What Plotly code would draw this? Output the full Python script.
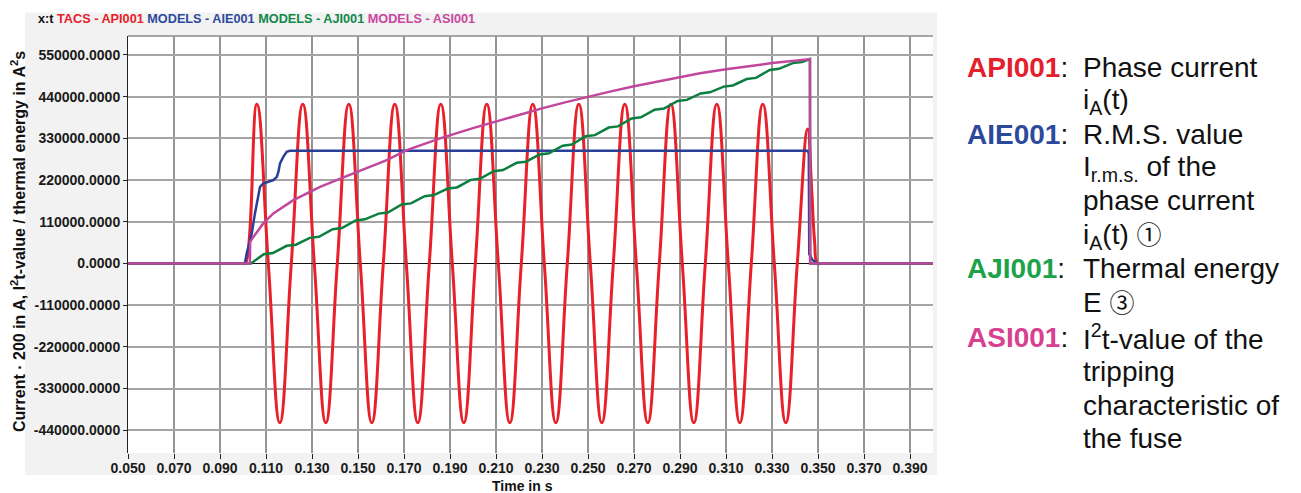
import plotly.graph_objects as go

# ---------------- data ----------------
# Phase current API001 (x200), quarter-period samples
red_t = [0.050, 0.100, 0.101, 0.106, 0.111, 0.116, 0.121, 0.126, 0.131, 0.136, 0.141, 0.146,
         0.151, 0.156, 0.161, 0.166, 0.171, 0.176, 0.181, 0.186, 0.191, 0.196, 0.201,
         0.206, 0.211, 0.216, 0.221, 0.226, 0.231, 0.236, 0.241, 0.246, 0.251, 0.256,
         0.261, 0.266, 0.271, 0.276, 0.281, 0.286, 0.291, 0.296, 0.301, 0.306, 0.311,
         0.316, 0.321, 0.326, 0.331, 0.336, 0.341, 0.3455, 0.3472, 0.3485, 0.3497, 0.351, 0.400]
red_v = [0, 0, 0, 420000, 0, -420000, 0, 420000, 0, -420000, 0, 420000,
         0, -420000, 0, 420000, 0, -420000, 0, 420000, 0, -420000, 0,
         420000, 0, -420000, 0, 420000, 0, -420000, 0, 420000, 0, -420000,
         0, 420000, 0, -420000, 0, 420000, 0, -420000, 0, 420000, 0,
         -420000, 0, 420000, 0, -420000, 0, 355000, 200000, 60000, 0, 0, 0]

# R.M.S. value AIE001
blue_t = [0.050, 0.1008, 0.1016, 0.1030, 0.1038, 0.1052, 0.1067, 0.1074, 0.1088, 0.1110,
          0.1132, 0.1147, 0.1154, 0.1161, 0.1175, 0.1190, 0.1204, 0.3455, 0.3460, 0.3462,
          0.3475, 0.3497, 0.400]
blue_v = [0, 0, 26000, 61500, 79000, 132000, 180000, 202000, 211000, 215000,
          220000, 228600, 242000, 264000, 281000, 294600, 297000, 297000, 290000, 25000,
          10000, 0, 0]

# Thermal energy AJI001
green_t = [0.050, 0.1035, 0.109, 0.113, 0.119, 0.123, 0.129, 0.133, 0.139, 0.143, 0.149,
           0.153, 0.159, 0.163, 0.169, 0.173, 0.179, 0.183, 0.189, 0.193, 0.199, 0.203,
           0.209, 0.213, 0.219, 0.223, 0.229, 0.233, 0.239, 0.243, 0.249, 0.253, 0.259,
           0.263, 0.269, 0.273, 0.279, 0.283, 0.289, 0.293, 0.299, 0.303, 0.309, 0.313,
           0.319, 0.323, 0.329, 0.333, 0.339, 0.343, 0.3465, 0.3466, 0.400]
green_v = [0, 0, 24500, 27500, 46500, 49500, 67500, 70500, 90500, 93500, 113500,
           116500, 131500, 134500, 155500, 158500, 177500, 180500, 197500, 200500, 220500, 223500,
           243500, 246500, 265500, 268500, 287500, 290500, 310500, 313500, 335500, 338500, 358500,
           361500, 382500, 385500, 405500, 408500, 428500, 431500, 448500, 451500, 466500, 469500,
           486500, 489500, 510500, 513500, 528500, 531500, 539000, 0, 0]

# I2t-value of the tripping characteristic ASI001
pink_t = [0.050, 0.103, 0.1031, 0.1045, 0.1088, 0.1132, 0.1219, 0.1335, 0.148, 0.1625,
          0.1712, 0.1857, 0.200, 0.210, 0.220, 0.230, 0.240, 0.250, 0.260, 0.270, 0.280,
          0.290, 0.2987, 0.310, 0.320, 0.330, 0.340, 0.3465, 0.3466, 0.400]
pink_v = [0, 0, 57000, 70000, 105600, 132000, 167000, 202000, 237600, 272600,
          299000, 330000, 357000, 375000, 392500, 409000, 425000, 440000, 454000, 467500, 480000,
          492000, 501500, 512000, 521000, 528500, 535000, 539000, 0, 0]

x_tick_vals = [0.05, 0.07, 0.09, 0.11, 0.13, 0.15, 0.17, 0.19, 0.21, 0.23, 0.25, 0.27,
               0.29, 0.31, 0.33, 0.35, 0.37, 0.39]
x_tick_labels = ["0.050", "0.070", "0.090", "0.110", "0.130", "0.150", "0.170", "0.190",
                 "0.210", "0.230", "0.250", "0.270", "0.290", "0.310", "0.330", "0.350",
                 "0.370", "0.390"]
y_tick_vals = [-440000, -330000, -220000, -110000, 0, 110000, 220000, 330000, 440000, 550000]
y_tick_labels = ["-440000.0000", "-330000.0000", "-220000.0000", "-110000.0000", "0.0000",
                 "110000.0000", "220000.0000", "330000.0000", "440000.0000", "550000.0000"]

series_names = ["TACS - API001", "MODELS - AIE001", "MODELS - AJI001", "MODELS - ASI001"]
line_colors = ["#e8202a", "#2b3f98", "#0b7f3e", "#c0479c"]
header_colors = ["#e8202a", "#2e4a9e", "#11894a", "#c8479f"]
code_colors = ["#e3202c", "#2c4a9c", "#1ba24b", "#d8418f"]

CIRC = "<span style='font-family:Noto Sans CJK JP;font-weight:normal;font-size:25px'>{}</span>"
codes = ["API001", "AIE001", "AJI001", "ASI001"]
desc_lines = [
    "Phase current", "i<sub>A</sub>(t)",
    "R.M.S. value", "I<sub>r.m.s.</sub> of the", "phase current",
    "i<sub>A</sub>(t) " + CIRC.format("\u2460"),
    "Thermal energy", "E " + CIRC.format("\u2462"),
    "I<sup>2</sup>t-value of the", "tripping", "characteristic of", "the fuse",
]
code_line_index = [0, 2, 6, 8]

# ---------------- figure ----------------
W, H = 1301, 493
L, R, T, B = 128, 368, 36, 40
PW, PH = W - L - R, H - T - B


def px(x):
    return (x - L) / PW


def py(y):
    return (H - B - y) / PH


fig = go.Figure()
fig.add_trace(go.Scatter(x=red_t, y=red_v, mode="lines", name=series_names[0],
                         line=dict(color=line_colors[0], width=3, shape="spline", smoothing=1.3)))
fig.add_trace(go.Scatter(x=blue_t, y=blue_v, mode="lines", name=series_names[1],
                         line=dict(color=line_colors[1], width=2.5)))
fig.add_trace(go.Scatter(x=green_t, y=green_v, mode="lines", name=series_names[2],
                         line=dict(color=line_colors[2], width=2.5)))
fig.add_trace(go.Scatter(x=pink_t, y=pink_v, mode="lines", name=series_names[3],
                         line=dict(color=line_colors[3], width=2.5)))

tickfont = dict(family="Liberation Sans, Arial, sans-serif", size=14, color="#1a1a1a", weight="bold")

fig.update_layout(
    width=W, height=H,
    margin=dict(l=L, r=R, t=T, b=B, pad=0),
    paper_bgcolor="white",
    plot_bgcolor="white",
    showlegend=False,
    xaxis=dict(range=[0.05, 0.40], tickvals=x_tick_vals, ticktext=x_tick_labels,
               showgrid=True, gridcolor="#959595", gridwidth=1.5,
               ticks="outside", ticklen=5, tickcolor="#222", tickwidth=1,
               ticklabelstandoff=-3,
               zeroline=False, showline=False, tickfont=tickfont),
    yaxis=dict(range=[-500000, 600000], tickvals=y_tick_vals, ticktext=y_tick_labels,
               showgrid=True, gridcolor="#a5a5a5", gridwidth=1.5,
               ticks="outside", ticklen=4, tickcolor="#222", tickwidth=1,
               zeroline=True, zerolinecolor="#111", zerolinewidth=1,
               showline=True, linecolor="#222", linewidth=1, tickfont=tickfont),
    shapes=[
        dict(type="rect", xref="paper", yref="paper", x0=px(25), x1=px(937),
             y0=py(475), y1=py(12.5), fillcolor="#f2f2f2", line=dict(width=0), layer="below"),
        dict(type="rect", xref="paper", yref="paper", x0=0, x1=1, y0=0, y1=1,
             fillcolor="white", line=dict(width=0), layer="below"),
        dict(type="line", xref="paper", yref="paper", x0=0, x1=1, y0=1, y1=1,
             line=dict(color="#8a8a8a", width=1.5), layer="below"),
    ],
)

annotations = []
# header (x:t + coloured series names)
hdr = "x:t " + " ".join(
    f"<span style='color:{c}'>{n}</span>" for n, c in zip(series_names, header_colors))
annotations.append(dict(xref="paper", yref="paper", x=px(36), y=py(19), xanchor="left",
                        yanchor="middle", showarrow=False, text=hdr,
                        font=dict(family="Liberation Sans, Arial, sans-serif", size=12.7,
                                  color="#111", weight="bold")))
# axis titles
annotations.append(dict(xref="paper", yref="paper", x=px(522), y=py(486), xanchor="center",
                        yanchor="middle", showarrow=False, text="Time in s",
                        font=dict(family="Liberation Sans, Arial, sans-serif", size=14,
                                  color="#111", weight="bold")))
annotations.append(dict(xref="paper", yref="paper", x=px(18), y=py(242), xanchor="center",
                        yanchor="middle", showarrow=False, textangle=-90,
                        text="Current \u00b7 200 in A, I<sup>2</sup>t-value / thermal energy in A<sup>2</sup>s",
                        font=dict(family="Liberation Sans, Arial, sans-serif", size=16,
                                  color="#111", weight="bold")))
# right-hand explanation
line_y = [67, 101, 134, 168, 200, 234, 268, 301, 337, 371, 405, 438]
bigfont = dict(family="Liberation Sans, Arial, sans-serif", size=28, color="#111")
for i, (txt, yy) in enumerate(zip(desc_lines, line_y)):
    annotations.append(dict(xref="paper", yref="paper", x=px(1081), y=py(yy), xanchor="left",
                            yanchor="middle", showarrow=False, text=txt, font=bigfont))
for k, idx in enumerate(code_line_index):
    annotations.append(dict(xref="paper", yref="paper", x=px(965), y=py(line_y[idx]),
                            xanchor="left", yanchor="middle", showarrow=False,
                            text=f"<span style='color:{code_colors[k]}'><b>{codes[k]}</b></span>:",
                            font=bigfont))
fig.update_layout(annotations=annotations)

fig.write_html("out.html")
